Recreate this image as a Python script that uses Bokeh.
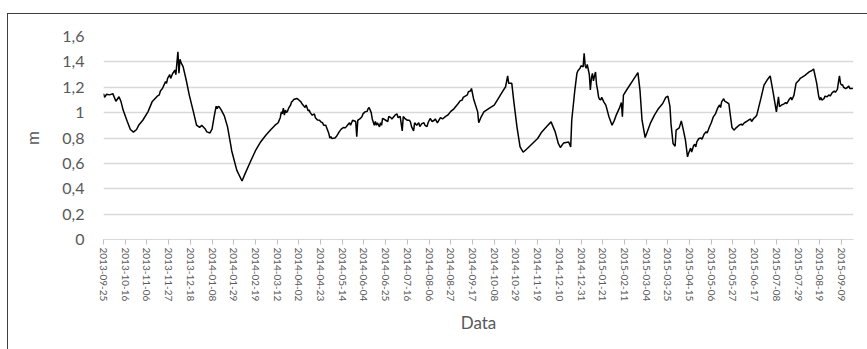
import pandas as pd
from bokeh.plotting import figure
from bokeh.models import (ColumnDataSource, FixedTicker, DatetimeTickFormatter,
                          CustomJSTickFormatter, Range1d, InlineStyleSheet)
from bokeh.embed import file_html
from bokeh.resources import INLINE

# Water level readings (m), main trace
dates = [
    "2013-09-25", "2013-09-26", "2013-09-28", "2013-10-01", "2013-10-04", "2013-10-07",
    "2013-10-10", "2013-10-12", "2013-10-14", "2013-10-18", "2013-10-21", "2013-10-24",
    "2013-10-27", "2013-10-29", "2013-11-02", "2013-11-07", "2013-11-11", "2013-11-16",
    "2013-11-21", "2013-11-24", "2013-11-27", "2013-11-29", "2013-12-01", "2013-12-03",
    "2013-12-04", "2013-12-05", "2013-12-06", "2013-12-07", "2013-12-08", "2013-12-09",
    "2013-12-11", "2013-12-14", "2013-12-17", "2013-12-21", "2013-12-24", "2013-12-27",
    "2013-12-29", "2014-01-01", "2014-01-03", "2014-01-06", "2014-01-08", "2014-01-10",
    "2014-01-12", "2014-01-15", "2014-01-17", "2014-01-20", "2014-01-23", "2014-01-26",
    "2014-01-27", "2014-02-01", "2014-02-06", "2014-02-09", "2014-02-14", "2014-02-19",
    "2014-02-24", "2014-03-01", "2014-03-06", "2014-03-10", "2014-03-14", "2014-03-16",
    "2014-03-18", "2014-03-19", "2014-03-21", "2014-03-23", "2014-03-26", "2014-03-28",
    "2014-03-31", "2014-04-02", "2014-04-04", "2014-04-07", "2014-04-09", "2014-04-11",
    "2014-04-15", "2014-04-17", "2014-04-20", "2014-04-25", "2014-04-28", "2014-05-01",
    "2014-05-02", "2014-05-04", "2014-05-07", "2014-05-11", "2014-05-15", "2014-05-19",
    "2014-05-24", "2014-05-27", "2014-05-28", "2014-05-29", "2014-06-02", "2014-06-05",
    "2014-06-09", "2014-06-11", "2014-06-14", "2014-06-17", "2014-06-19", "2014-06-22",
    "2014-06-25", "2014-06-30", "2014-07-04", "2014-07-09", "2014-07-11", "2014-07-12",
    "2014-07-16", "2014-07-19", "2014-07-22", "2014-07-23", "2014-07-25", "2014-07-30",
    "2014-08-04", "2014-08-07", "2014-08-11", "2014-08-14", "2014-08-17", "2014-08-22",
    "2014-08-27", "2014-09-01", "2014-09-05", "2014-09-10", "2014-09-13", "2014-09-16",
    "2014-09-18", "2014-09-22", "2014-09-23", "2014-09-25", "2014-09-28", "2014-10-03",
    "2014-10-08", "2014-10-11", "2014-10-16", "2014-10-19", "2014-10-21", "2014-10-22",
    "2014-10-25", "2014-10-27", "2014-10-30", "2014-11-02", "2014-11-05", "2014-11-09",
    "2014-11-14", "2014-11-19", "2014-11-23", "2014-11-28", "2014-12-02", "2014-12-06",
    "2014-12-09", "2014-12-11", "2014-12-14", "2014-12-19", "2014-12-21", "2014-12-22",
    "2014-12-25", "2014-12-27", "2014-12-30", "2015-01-02", "2015-01-03", "2015-01-04",
    "2015-01-07", "2015-01-09", "2015-01-11", "2015-01-12", "2015-01-14", "2015-01-16",
    "2015-01-18", "2015-01-22", "2015-01-24", "2015-01-27", "2015-01-30", "2015-02-01",
    "2015-02-03", "2015-02-06", "2015-02-08", "2015-02-09", "2015-02-10", "2015-02-14",
    "2015-02-19", "2015-02-22", "2015-02-24", "2015-02-26", "2015-02-28", "2015-03-03",
    "2015-03-05", "2015-03-08", "2015-03-12", "2015-03-16", "2015-03-20", "2015-03-23",
    "2015-03-25", "2015-03-27", "2015-03-28", "2015-03-30", "2015-04-01", "2015-04-02",
    "2015-04-05", "2015-04-07", "2015-04-09", "2015-04-11", "2015-04-13", "2015-04-15",
    "2015-04-19", "2015-04-24", "2015-04-29", "2015-05-04", "2015-05-08", "2015-05-12",
    "2015-05-16", "2015-05-18", "2015-05-21", "2015-05-23", "2015-05-24", "2015-05-26",
    "2015-05-28", "2015-06-02", "2015-06-07", "2015-06-11", "2015-06-16", "2015-06-19",
    "2015-06-23", "2015-06-26", "2015-06-29", "2015-07-02", "2015-07-05", "2015-07-08",
    "2015-07-10", "2015-07-11", "2015-07-15", "2015-07-20", "2015-07-25", "2015-07-27",
    "2015-07-30", "2015-08-05", "2015-08-09", "2015-08-13", "2015-08-16", "2015-08-18",
    "2015-08-21", "2015-08-26", "2015-08-31", "2015-09-05", "2015-09-07", "2015-09-09",
    "2015-09-11", "2015-09-15", "2015-09-18", "2015-09-20",
]

level_m = [
    1.15, 1.12, 1.145, 1.14, 1.15, 1.09,
    1.125, 1.085, 1.02, 0.93, 0.867, 0.846,
    0.867, 0.90, 0.94, 1.006, 1.085, 1.13,
    1.19, 1.244, 1.283, 1.27, 1.31, 1.336,
    1.30, 1.39, 1.48, 1.31, 1.42, 1.394,
    1.362, 1.257, 1.138, 1.006, 0.901, 0.883,
    0.90, 0.875, 0.848, 0.84, 0.87, 0.967,
    1.051, 1.045, 1.02, 0.972, 0.888, 0.75,
    0.70, 0.545, 0.461, 0.519, 0.611, 0.70,
    0.769, 0.822, 0.867, 0.901, 0.941, 1.006,
    1.035, 0.98, 1.00, 1.033, 1.085, 1.104,
    1.112, 1.10, 1.085, 1.051, 1.06, 1.014,
    0.98, 0.99, 0.941, 0.919, 0.901, 0.835,
    0.80, 0.796, 0.80, 0.848, 0.883, 0.90,
    0.94, 0.93, 0.81, 0.94, 0.967, 1.006,
    1.041, 1.00, 0.901, 0.92, 0.888, 0.954,
    0.94, 0.96, 0.98, 0.97, 0.856, 0.97,
    0.94, 0.925, 0.856, 0.92, 0.90, 0.913,
    0.89, 0.954, 0.94, 0.92, 0.96, 0.97,
    1.01, 1.05, 1.093, 1.13, 1.165, 1.19,
    1.11, 1.006, 0.92, 0.96, 1.006, 1.033,
    1.059, 1.099, 1.165, 1.204, 1.289, 1.231,
    1.231, 1.085, 0.888, 0.73, 0.688, 0.717,
    0.757, 0.796, 0.848, 0.893, 0.927, 0.848,
    0.757, 0.725, 0.76, 0.769, 0.73, 0.94,
    1.178, 1.31, 1.349, 1.36, 1.468, 1.37,
    1.34, 1.178, 1.31, 1.25, 1.32, 1.178,
    1.104, 1.085, 1.059, 0.967, 0.901, 0.935,
    0.98, 1.033, 1.08, 0.967, 1.138, 1.19,
    1.252, 1.289, 1.315, 1.178, 0.94, 0.804,
    0.848, 0.915, 0.98, 1.033, 1.072, 1.12,
    1.13, 1.05, 0.915, 0.757, 0.735, 0.862,
    0.88, 0.935, 0.862, 0.783, 0.651, 0.70,
    0.743, 0.796, 0.83, 0.883, 0.967, 1.033,
    1.085, 1.11, 1.08, 1.07, 1.006, 0.883,
    0.862, 0.901, 0.92, 0.941, 0.954, 0.98,
    1.112, 1.217, 1.257, 1.289, 1.152, 1.006,
    1.125, 1.046, 1.067, 1.099, 1.138, 1.231,
    1.257, 1.296, 1.323, 1.344, 1.231, 1.125,
    1.099, 1.125, 1.157, 1.183, 1.289, 1.217,
    1.20, 1.20, 1.19, 1.19,
]

# Intermediate readings in the more variable stretches
dates_fill = [
    "2013-11-18", "2013-11-19", "2013-11-25", "2013-11-26", "2013-11-28", "2013-11-30",
    "2013-12-02", "2014-01-13", "2014-01-14", "2014-03-13", "2014-03-15", "2014-03-17",
    "2014-03-20", "2014-03-22", "2014-03-25", "2014-03-27", "2014-04-05", "2014-04-08",
    "2014-04-12", "2014-04-13", "2014-04-18", "2014-04-22", "2014-04-23", "2014-04-26",
    "2014-05-03", "2014-05-09", "2014-05-13", "2014-05-17", "2014-05-21", "2014-05-22",
    "2014-05-31", "2014-06-03", "2014-06-07", "2014-06-08", "2014-06-12", "2014-06-15",
    "2014-06-16", "2014-06-20", "2014-06-21", "2014-06-23", "2014-06-27", "2014-06-28",
    "2014-07-01", "2014-07-03", "2014-07-06", "2014-07-07", "2014-07-14", "2014-07-18",
    "2014-07-20", "2014-07-27", "2014-07-28", "2014-08-01", "2014-08-02", "2014-08-05",
    "2014-08-09", "2014-08-12", "2014-08-19", "2014-08-24", "2014-08-30", "2014-09-03",
    "2014-09-07", "2014-09-08", "2014-09-12", "2014-09-15", "2014-12-28", "2014-12-31",
    "2015-01-05", "2015-01-06", "2015-01-08", "2015-01-10", "2015-01-13", "2015-01-15",
    "2015-01-17", "2015-01-19", "2015-01-20", "2015-04-14", "2015-04-16", "2015-04-17",
    "2015-04-20", "2015-04-21", "2015-04-22", "2015-04-26", "2015-04-27", "2015-05-01",
    "2015-05-02", "2015-05-06", "2015-05-10", "2015-05-14", "2015-05-15", "2015-05-19",
    "2015-05-30", "2015-06-04", "2015-06-05", "2015-06-09", "2015-06-13", "2015-06-14",
    "2015-06-17", "2015-07-13", "2015-07-17", "2015-07-18", "2015-07-22", "2015-07-23",
    "2015-07-31", "2015-08-02", "2015-08-07", "2015-08-11", "2015-08-19", "2015-08-20",
    "2015-08-23", "2015-08-24", "2015-08-28", "2015-08-29", "2015-09-02", "2015-09-03",
    "2015-09-06", "2015-09-08", "2015-09-10", "2015-09-13", "2015-09-16", "2015-09-17",
]

level_fill = [
    1.14, 1.17, 1.23, 1.27, 1.30, 1.29,
    1.32, 1.03, 1.05, 0.92, 0.96, 0.99,
    1.02, 1.01, 1.06, 1.09, 1.07, 1.04,
    1.02, 1.00, 0.96, 0.94, 0.93, 0.90,
    0.81, 0.82, 0.87, 0.88, 0.92, 0.90,
    0.95, 0.99, 1.01, 1.03, 0.95, 0.93,
    0.90, 0.92, 0.90, 0.95, 0.93, 0.97,
    0.95, 0.97, 0.99, 0.96, 0.95, 0.94,
    0.89, 0.92, 0.89, 0.92, 0.90, 0.92,
    0.93, 0.95, 0.95, 0.98, 1.03, 1.07,
    1.10, 1.12, 1.14, 1.17, 1.33, 1.37,
    1.35, 1.38, 1.30, 1.27, 1.29, 1.22,
    1.12, 1.10, 1.12, 0.68, 0.72, 0.69,
    0.75, 0.73, 0.77, 0.80, 0.79, 0.85,
    0.84, 0.92, 0.99, 1.06, 1.04, 1.09,
    0.88, 0.91, 0.90, 0.93, 0.95, 0.93,
    0.96, 1.06, 1.08, 1.07, 1.12, 1.10,
    1.27, 1.28, 1.31, 1.33, 1.10, 1.12,
    1.11, 1.13, 1.14, 1.13, 1.17, 1.16,
    1.24, 1.23, 1.22, 1.19, 1.21, 1.19,
]

tick_labels = [
    "2013-09-25", "2013-10-16", "2013-11-06", "2013-11-27", "2013-12-18", "2014-01-08",
    "2014-01-29", "2014-02-19", "2014-03-12", "2014-04-02", "2014-04-23", "2014-05-14",
    "2014-06-04", "2014-06-25", "2014-07-16", "2014-08-06", "2014-08-27", "2014-09-17",
    "2014-10-08", "2014-10-29", "2014-11-19", "2014-12-10", "2014-12-31", "2015-01-21",
    "2015-02-11", "2015-03-04", "2015-03-25", "2015-04-15", "2015-05-06", "2015-05-27",
    "2015-06-17", "2015-07-08", "2015-07-29", "2015-08-19", "2015-09-09",
]

y_ticks = [0, 0.2, 0.4, 0.6, 0.8, 1, 1.2, 1.4, 1.6]

assert len(dates) == len(level_m) and len(dates_fill) == len(level_fill)

FONT = "Lato"
TEXT = "#595959"

df = pd.DataFrame({
    "t": pd.to_datetime(dates + dates_fill),
    "m": level_m + level_fill,
}).sort_values("t")
src = ColumnDataSource(df)

# outer chart-area frame drawn around the page element
frame_css = InlineStyleSheet(css="""
:host { position: relative; }
:host::after {
  content: ""; position: absolute; left: 7px; top: 13px; right: -6px; bottom: -6px;
  border: 1.3px solid #3f3f3f; pointer-events: none; z-index: 10;
}
""")

p = figure(
    width=867, height=349, x_axis_type="datetime",
    output_backend="svg", toolbar_location=None,
    x_range=Range1d(pd.Timestamp("2013-09-25"), pd.Timestamp("2015-09-20 14:00")),
    y_range=Range1d(0, 1.6),
    min_border_left=103, min_border_right=14, min_border_top=36, min_border_bottom=110,
    background_fill_color="white", border_fill_color="white",
    stylesheets=[frame_css],
)
p.outline_line_color = None

p.line("t", "m", source=src, line_color="black", line_width=1.5)

# x axis: date ticks every 21 days, vertical labels
tick_ms = [int(pd.Timestamp(d).value // 10**6) for d in tick_labels]
p.xaxis.ticker = FixedTicker(ticks=tick_ms)
fmt = "%Y-%m-%d"
p.xaxis.formatter = DatetimeTickFormatter(
    milliseconds=fmt, seconds=fmt, minsec=fmt, minutes=fmt, hourmin=fmt,
    hours=fmt, days=fmt, months=fmt, years=fmt)
p.xaxis.major_label_orientation = "vertical"
p.xaxis.major_label_text_font = FONT
p.xaxis.major_label_text_font_size = "10px"
p.xaxis.major_label_text_color = TEXT
p.xaxis.major_label_standoff = 3
p.xaxis.axis_line_color = "#d9d9d9"
p.xaxis.major_tick_line_color = "#bfbfbf"
p.xaxis.major_tick_out = 5
p.xaxis.major_tick_in = 0
p.xaxis.minor_tick_line_color = None
p.xaxis.axis_label = "Data"
p.xaxis.axis_label_text_font = FONT
p.xaxis.axis_label_text_font_style = "normal"
p.xaxis.axis_label_text_font_size = "17px"
p.xaxis.axis_label_text_color = TEXT
p.xaxis.axis_label_standoff = 8

# y axis: comma decimal labels
p.yaxis.ticker = FixedTicker(ticks=y_ticks)
p.yaxis.formatter = CustomJSTickFormatter(
    code="return (Math.round(tick*10)/10).toString().replace('.', ',');")
p.yaxis.axis_line_color = None
p.yaxis.major_tick_line_color = None
p.yaxis.minor_tick_line_color = None
p.yaxis.major_label_text_font = FONT
p.yaxis.major_label_text_font_size = "16px"
p.yaxis.major_label_text_color = TEXT
p.yaxis.major_label_standoff = 13
p.yaxis.axis_label = "m"
p.yaxis.axis_label_text_font = FONT
p.yaxis.axis_label_text_font_style = "normal"
p.yaxis.axis_label_text_font_size = "17px"
p.yaxis.axis_label_text_color = TEXT
p.yaxis.axis_label_standoff = 16

p.xgrid.visible = False
p.ygrid.grid_line_color = "#d9d9d9"
p.ygrid.grid_line_width = 1.3

open("out.html", "w").write(file_html(p, INLINE))
